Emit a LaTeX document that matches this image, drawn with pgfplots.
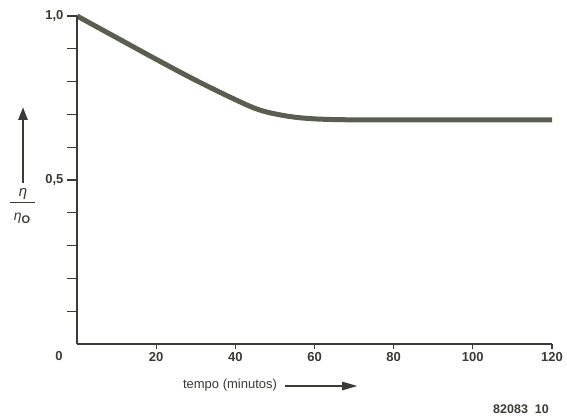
\documentclass[border=0pt]{standalone}
\usepackage{pgfplots}
\pgfplotsset{compat=1.18}
\usepackage{fontspec}
\setmainfont{Liberation Sans}
\usetikzlibrary{arrows.meta}
\definecolor{ink}{HTML}{3A3B34}
\definecolor{curve}{HTML}{5A5E50}
\pgfplotsset{base/.style={
  at={(77pt,73pt)}, anchor=south west,
  scale only axis, width=475pt, height=328pt,
  xmin=0, xmax=120, ymin=0, ymax=1.0,
  axis lines=left,
  axis line style={-, line width=1.5pt, color=ink},
  tick align=outside,
  tick style={line width=1.2pt, color=ink},
  /pgf/number format/assume math mode=true,
  ticklabel style={font=\fontsize{13}{14}\selectfont\bfseries, text=ink},
  clip=false}}
\begin{document}
\begin{tikzpicture}[x=1pt,y=1pt]
\path[use as bounding box, fill=white] (0,0) rectangle (567,417);
\begin{axis}[base,
  xtick=\empty,
  ytick={0.1,0.2,0.3,0.4,0.5,0.6,0.7,0.8,0.9,1.0},
  yticklabels={,,,,{0,5},,,,,{1,0}},
  major tick length=10pt,
]
\addplot[curve, line width=5pt, smooth, tension=0.6] coordinates {
  (0,1.0) (10,0.934) (20,0.868) (30,0.804) (40,0.745) (46,0.714)
  (52,0.697) (58,0.688) (66,0.684) (80,0.683) (100,0.683) (120,0.683)
};
\node[font=\fontsize{13}{14}\selectfont\bfseries, text=ink] at (axis cs:0,0) [xshift=-18pt, yshift=-12pt] {0};
\end{axis}
\begin{axis}[base,
  ytick=\empty,
  xtick={20,40,60,80,100,120},
  major tick length=5pt,
]
\end{axis}
\draw[ink, line width=2.8pt, -{Triangle[length=13pt,width=9pt]}] (23,234) -- (23,310);
\node[text=ink, inner sep=0pt, font=\fontsize{15}{15}\selectfont\itshape] at (23,223) {η};
\draw[ink, line width=1pt] (10,214) -- (35,214);
\node[text=ink, inner sep=0pt, anchor=base] at (22,196) {\fontsize{14}{14}\selectfont\itshape η\raisebox{-3pt}{\upshape\bfseries\fontsize{11}{11}\selectfont O}};
\node[text=ink, font=\fontsize{13}{15}\selectfont] at (230,32) {tempo (minutos)};
\draw[ink, line width=2.8pt, -{Triangle[length=16pt,width=8pt]}] (285,31) -- (358,31);
\node[text=ink, font=\fontsize{12.5}{15}\selectfont\bfseries] at (521,8) {82083\ \ 10};
\end{tikzpicture}
\end{document}
